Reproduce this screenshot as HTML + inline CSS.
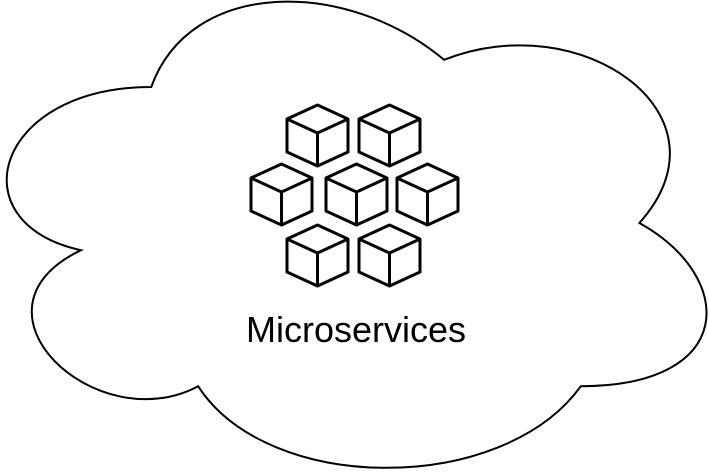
<!DOCTYPE html>
<html><head><style>body{margin:0;background:#fff}svg{display:block}</style></head><body>
<svg width="709" height="473" viewBox="0 0 709 473" xmlns="http://www.w3.org/2000/svg">
<defs>
<g id="c" fill="none" stroke="#000" stroke-width="3" stroke-linejoin="round">
<path d="M30.5 0 L61 14 L61 47 L30.5 61 L0 47 L0 14 Z M0 14 L30.5 28 L61 14 M30.5 28 L30.5 61" fill="#fff"/>
</g>
</defs>
<g transform="translate(-44,-49) scale(781,544)">
<path d="M0.25 0.25 C0.05 0.25 0 0.5 0.16 0.55 C0 0.66 0.18 0.9 0.31 0.8 C0.4 1 0.7 1 0.8 0.8 C1 0.8 1 0.6 0.875 0.5 C1 0.3 0.8 0.1 0.625 0.2 C0.5 0.05 0.3 0.05 0.25 0.25 Z" fill="#fff" stroke="#000" stroke-width="2" vector-effect="non-scaling-stroke"/>
</g>
<use href="#c" x="287" y="105"/>
<use href="#c" x="359" y="105"/>
<use href="#c" x="251" y="164"/>
<use href="#c" x="326" y="164"/>
<use href="#c" x="397" y="164"/>
<use href="#c" x="287" y="225"/>
<use href="#c" x="359" y="225"/>
<text x="356" y="342" text-anchor="middle" font-family="Liberation Sans, Arial, sans-serif" font-size="36" fill="#000">Microservices</text>
</svg>
</body></html>
